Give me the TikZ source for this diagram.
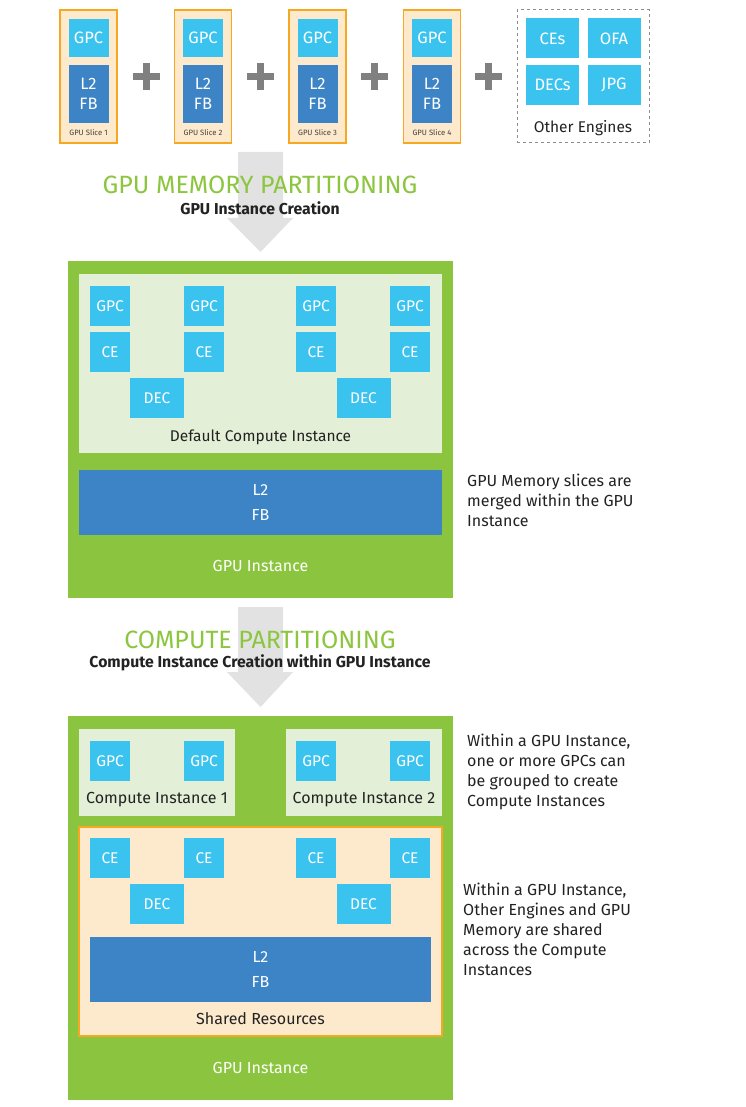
\documentclass[tikz,border=0pt]{standalone}
\usepackage{fontspec}
\setmainfont{Fira Sans}
\usetikzlibrary{positioning}

\definecolor{nvgreen}{HTML}{8BC53F}
\definecolor{cigreen}{HTML}{E3EFD6}
\definecolor{gpccyan}{HTML}{3BC3F0}
\definecolor{fbblue}{HTML}{3C84C5}
\definecolor{sliceorange}{HTML}{F7A823}
\definecolor{slicepeach}{HTML}{FDE9CB}
\definecolor{plusgrey}{HTML}{808080}
\definecolor{arrowgrey}{HTML}{E2E2E2}
\definecolor{titlegreen}{HTML}{8CC63F}
\definecolor{textdark}{HTML}{222222}

\tikzset{
  unit/.style={fill=gpccyan, text=white, inner sep=0pt, minimum width=40pt, minimum height=40pt, font=\fontsize{15.5}{18}\selectfont},
  fbbar/.style={fill=fbblue, text=white, inner sep=0pt, align=center, font=\fontsize{16}{25}\selectfont},
  slicebox/.style={draw=sliceorange, fill=slicepeach, line width=1.2pt, minimum width=57pt, minimum height=133pt, inner sep=0pt},
  caption/.style={text=textdark, inner sep=0pt, font=\fontsize{15.5}{18}\selectfont},
  note/.style={text=textdark, inner sep=0pt, anchor=north west, align=left, font=\fontsize{16}{20}\selectfont},
  bigarrow/.style={fill=arrowgrey}
}

\begin{document}
\begin{tikzpicture}[x=1pt,y=-1pt]

  \useasboundingbox[fill=white] (0,0) rectangle (745,1107);

  % gpu slices
  \foreach \i/\sx in {1/88.5,2/203,3/317.5,4/432} {
    \node[slicebox] (slice\i) at (\sx,76.5) {};
    \node[unit, minimum height=38pt, font=\fontsize{16.5}{19}\selectfont] (sgpc\i) at (\sx,38) {GPC};
    \node[fbbar, minimum width=40pt, minimum height=58pt, font=\fontsize{16.5}{20}\selectfont] (sfb\i) at (\sx,94) {L2\\FB};
    \node[caption, font=\fontsize{7.7}{9}\selectfont, text=black!75] (slbl\i) at (\sx,133) {GPU Slice \i};
  }
  \foreach \px in {146,260,374,488} {
    \fill[plusgrey] (\px-13.5,73.5) rectangle (\px+13.5,80.5);
    \fill[plusgrey] (\px-3.5,63.5) rectangle (\px+3.5,90.5);
  }

  % other engines
  \node[draw=black!45, dashed, line width=1pt, minimum width=132pt, minimum height=133pt, inner sep=0pt] (other) at (583,76.5) {};
  \begin{scope}[every node/.style={unit, minimum width=53pt, font=\fontsize{16.5}{19}\selectfont}]
    \node (ces)  at (552.5,38.5) {CEs};
    \node (ofa)  at (614,38.5)   {OFA};
    \node (decs) at (552.5,85)   {DECs};
    \node (jpg)  at (614,85)     {JPG};
  \end{scope}
  \node[caption] (otherlbl) at (583,128) {Other Engines};

  % memory partitioning
  \fill[bigarrow] (238,152) -- (283,152) -- (283,218) -- (293,218) -- (260.5,252) -- (227,218) -- (238,218) -- cycle;
  \node[text=titlegreen, font=\fontsize{25}{29}\selectfont] (memtitle) at (260,185) {GPU MEMORY PARTITIONING};
  \node[caption, font=\fontsize{15.8}{18}\selectfont\bfseries] (memsub) at (260,208) {GPU Instance Creation};

  % gpu instance
  \node[fill=nvgreen, minimum width=385pt, minimum height=337pt, inner sep=0pt] (gi) at (260.5,429.5) {};
  \node[fill=cigreen, minimum width=363pt, minimum height=179pt, inner sep=0pt] (dci) at (260.5,363.5) {};
  \begin{scope}[every node/.style={unit}]
    \node (gpc1) at (110,306) {GPC};
    \node (gpc2) at (204,306) {GPC};
    \node (gpc3) at (316,306) {GPC};
    \node (gpc4) at (410,306) {GPC};
    \node (ce1)  at (110,352) {CE};
    \node (ce2)  at (204,352) {CE};
    \node (ce3)  at (316,352) {CE};
    \node (ce4)  at (410,352) {CE};
    \node[minimum width=54pt] (dec1) at (157,398)   {DEC};
    \node[minimum width=54pt] (dec2) at (363.5,398) {DEC};
  \end{scope}
  \node[caption] (dcilbl) at (260.5,437) {Default Compute Instance};
  \node[fbbar, minimum width=363pt, minimum height=65pt] (fb) at (260.5,502.5) {L2\\FB};
  \node[caption, font=\fontsize{16}{19}\selectfont, text=white] (gilbl) at (260.5,566) {GPU Instance};

  \node[note] (memnote) at (467,474) {GPU Memory slices are\\merged within the GPU\\Instance};

  % compute partitioning
  \fill[bigarrow] (238,607) -- (283,607) -- (283,672) -- (293,672) -- (260.5,707) -- (227,672) -- (238,672) -- cycle;
  \node[text=titlegreen, font=\fontsize{25}{29}\selectfont] (cptitle) at (260,640) {COMPUTE PARTITIONING};
  \node[caption, font=\fontsize{15.8}{18}\selectfont\bfseries] (cpsub) at (260,663) {Compute Instance Creation within GPU Instance};

  % gpu instance with compute instances
  \node[fill=nvgreen, minimum width=385pt, minimum height=384pt, inner sep=0pt] (gib) at (260.5,908) {};
  \node[fill=cigreen, minimum width=156pt, minimum height=87pt, inner sep=0pt] (ci1) at (157,772.5) {};
  \node[fill=cigreen, minimum width=156pt, minimum height=87pt, inner sep=0pt] (ci2) at (364,772.5) {};
  \node[draw=sliceorange, fill=slicepeach, line width=1.2pt, minimum width=363pt, minimum height=209pt, inner sep=0pt] (shared) at (260.5,931.5) {};
  \begin{scope}[every node/.style={unit}]
    \node (bgpc1) at (110,761) {GPC};
    \node (bgpc2) at (204,761) {GPC};
    \node (bgpc3) at (316,761) {GPC};
    \node (bgpc4) at (410,761) {GPC};
    \node (bce1)  at (110,858) {CE};
    \node (bce2)  at (204,858) {CE};
    \node (bce3)  at (316,858) {CE};
    \node (bce4)  at (410,858) {CE};
    \node[minimum width=54pt] (bdec1) at (157,904)   {DEC};
    \node[minimum width=54pt] (bdec2) at (363.5,904) {DEC};
  \end{scope}
  \node[caption, font=\fontsize{16}{19}\selectfont] (ci1lbl) at (157,800) {Compute Instance 1};
  \node[caption, font=\fontsize{16}{19}\selectfont] (ci2lbl) at (364,800) {Compute Instance 2};
  \node[fbbar, minimum width=341pt, minimum height=65pt] (bfb) at (260.5,969.5) {L2\\FB};
  \node[caption, font=\fontsize{16}{19}\selectfont] (sharedlbl) at (260.5,1019) {Shared Resources};
  \node[caption, font=\fontsize{16}{19}\selectfont, text=white] (giblbl) at (260.5,1068) {GPU Instance};

  \node[note] (cinote) at (467,734) {Within a GPU Instance,\\one or more GPCs can\\be grouped to create\\Compute Instances};
  \node[note] (sharednote) at (463,883) {Within a GPU Instance,\\Other Engines and GPU\\Memory are shared\\across the Compute\\Instances};

\end{tikzpicture}
\end{document}
